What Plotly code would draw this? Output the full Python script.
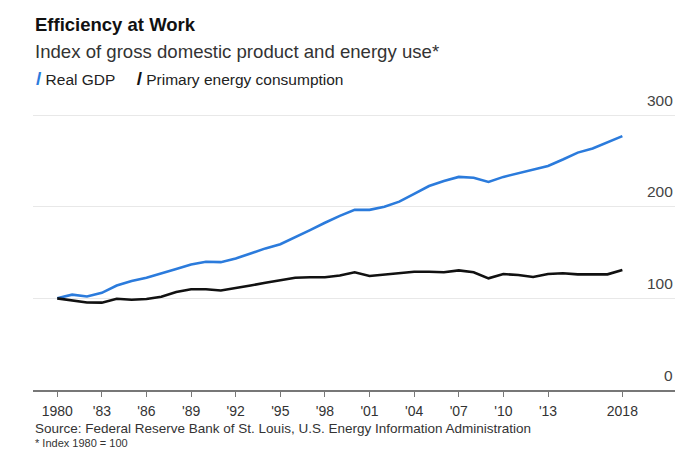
import plotly.graph_objects as go

years = list(range(1980, 2019))
real_gdp = [100, 104, 102, 106, 114, 119, 122.5, 127, 132, 137,
            140, 139.5, 143.5, 149, 154.5, 159, 166.5, 174.5, 182.5, 190,
            196.5, 196.5, 200, 205.5, 214, 222.5, 228, 232.5, 231.5, 227,
            232.5, 236.5, 240, 244.5, 251.5, 259, 263.5, 270, 277]
energy = [100, 98, 95.5, 95.3, 99.5, 98.5, 99.3, 101.8, 107, 110,
          110, 108.5, 111, 114, 117, 119.5, 122.5, 123, 123, 125,
          128.4, 124.4, 126, 127.3, 129, 129, 128.4, 130.5, 128.4, 121.8,
          126.5, 125.5, 123.3, 126.5, 127.3, 126.2, 126.2, 126.2, 131]

series_names = ["Real GDP", "Primary energy consumption"]
series_colors = ["#2b7bdc", "#111111"]

x_tickvals = [1980, 1983, 1986, 1989, 1992, 1995, 1998, 2001, 2004, 2007, 2010, 2013, 2018]
x_ticktext = ["1980", "'83", "'86", "'89", "'92", "'95", "'98", "'01", "'04", "'07", "'10", "'13", "2018"]
y_tickvals = [0, 100, 200, 300]
y_ticktext = ["0", "100", "200", "300"]

FONT = "Liberation Sans, Arial, sans-serif"

fig = go.Figure()
for name, vals, col in zip(series_names, [real_gdp, energy], series_colors):
    fig.add_trace(go.Scatter(x=years, y=vals, mode="lines", name=name,
                             line=dict(color=col, width=2.6), showlegend=False))

def key(col):
    return f"<span style='color:{col};font-size:19px'><b>/</b></span>"

annotations = [
    dict(text="<b>Efficiency at Work</b>", xref="paper", yref="paper", x=0, y=1.2167,
         xanchor="left", yanchor="middle", showarrow=False,
         font=dict(size=18.5, color="#111111", family=FONT)),
    dict(text="Index of gross domestic product and energy use*", xref="paper", yref="paper",
         x=0, y=1.13, xanchor="left", yanchor="middle", showarrow=False,
         font=dict(size=18.6, color="#333333", family=FONT)),
    dict(text=(f"{key(series_colors[0])} {series_names[0]}"
               f"     {key(series_colors[1])} {series_names[1]}"),
         xref="paper", yref="paper", x=0.002, y=1.0367, xanchor="left", yanchor="middle",
         showarrow=False, font=dict(size=15.5, color="#222222", family=FONT)),
    dict(text="Source: Federal Reserve Bank of St. Louis, U.S. Energy Information Administration",
         xref="paper", yref="paper", x=0, y=-0.13, xanchor="left", yanchor="middle",
         showarrow=False, font=dict(size=13.5, color="#333333", family=FONT)),
    dict(text="* Index 1980 = 100", xref="paper", yref="paper", x=0, y=-0.178,
         xanchor="left", yanchor="middle", showarrow=False,
         font=dict(size=11, color="#333333", family=FONT)),
]
for v, t in zip(y_tickvals, y_ticktext):
    annotations.append(dict(text=t, xref="paper", yref="y", x=1, y=v, xanchor="right",
                            yanchor="middle", yshift=15, showarrow=False,
                            font=dict(size=15.5, color="#444444", family=FONT)))

fig.update_layout(
    width=700, height=450,
    margin=dict(l=25, r=33, t=82, b=68),
    paper_bgcolor="white", plot_bgcolor="white",
    font=dict(family=FONT, color="#333333", size=13),
    showlegend=False,
    xaxis=dict(range=[1978.37, 2021.54], tickvals=x_tickvals, ticktext=x_ticktext,
               showgrid=False, zeroline=False, showline=True, linecolor="#777777",
               linewidth=1.6, ticks="outside", ticklen=5, tickcolor="#777777",
               ticklabelstandoff=2,
               tickfont=dict(size=14, color="#333333")),
    yaxis=dict(range=[0, 327.3], side="right", tickvals=y_tickvals,
               showticklabels=False, showgrid=True, gridcolor="#e8e8e8",
               gridwidth=1, zeroline=False, showline=False, ticks=""),
    annotations=annotations,
)

fig.write_html("out.html")
